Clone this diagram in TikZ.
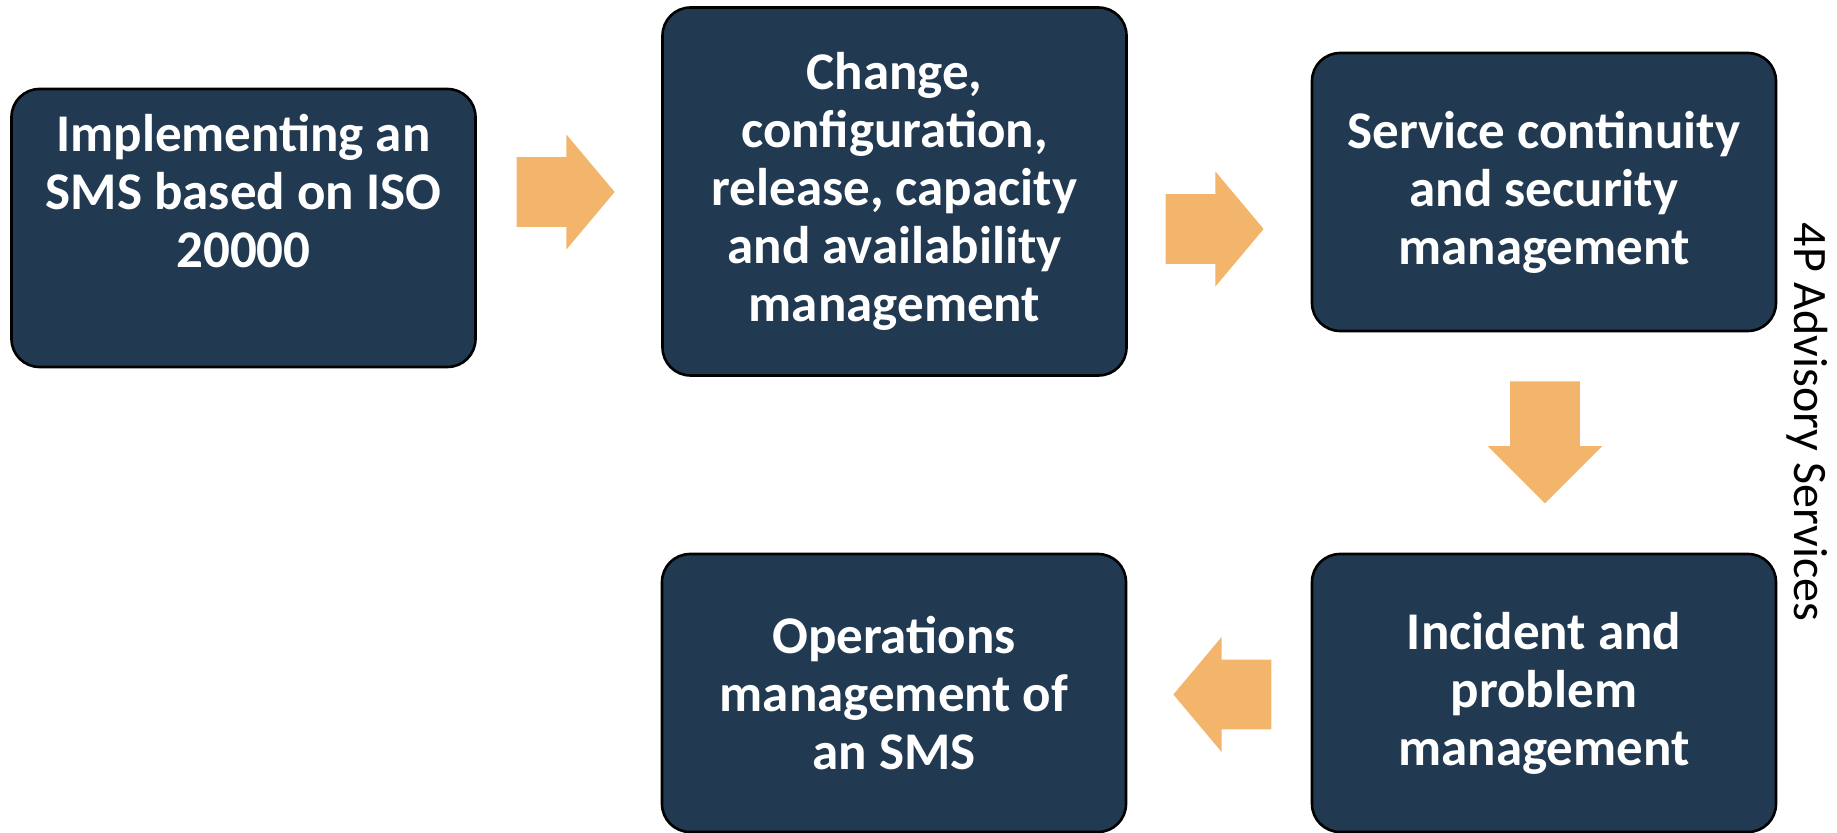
\documentclass[tikz,border=0pt]{standalone}
\usepackage{fontspec}
\setmainfont{Carlito}
\usepackage{tikz}
\usetikzlibrary{shapes.arrows}
\definecolor{boxblue}{RGB}{33,58,81}
\definecolor{arroworange}{RGB}{243,181,108}

\begin{document}
\begin{tikzpicture}
        [x=0.5pt, y=-0.5pt,
        procbox/.style={draw=black, line width=1.3pt, fill=boxblue, rounded corners=14pt, text=white, align=center, font=\fontsize{26.5}{29}\selectfont\bfseries, minimum width=232pt, minimum height=139pt, inner sep=0pt},
        flowarrow/.style={single arrow, fill=arroworange, draw=none, inner xsep=0pt, inner ysep=17.25pt, minimum width=57pt, minimum height=49pt, single arrow head extend=11.25pt, single arrow tip angle=100}]
        \useasboundingbox (0,0) rectangle (1837,833);

        \node[procbox] (sms) at (243.5,228) {Implementing an\\SMS based on ISO\\20000\\[8pt]\mbox{}};
        \node[procbox, minimum height=184pt] (change) at (894.5,191.5) {Change,\\configuration,\\release, capacity\\and availability\\management};
        \node[procbox] (continuity) at (1544,192) {Service continuity\\and security\\management};
        \node[procbox] (incident) at (1544,693) {Incident and\\problem\\management};
        \node[procbox] (operations) at (894,693) {Operations\\management of\\an SMS};

        \node[flowarrow] (a1) at (551,192) {};
        \node[flowarrow] (a2) at (1200,229) {};
        \node[flowarrow, rotate=-90, minimum height=61pt, single arrow tip angle=90] (a3) at (1545,425) {};
        \node[flowarrow, rotate=180] (a4) at (1237,694.5) {};

        \node[rotate=-90, font=\fontsize{24}{29}\selectfont] (brand) at (1807,422) {4P Advisory Services};
    \end{tikzpicture}
\end{document}
